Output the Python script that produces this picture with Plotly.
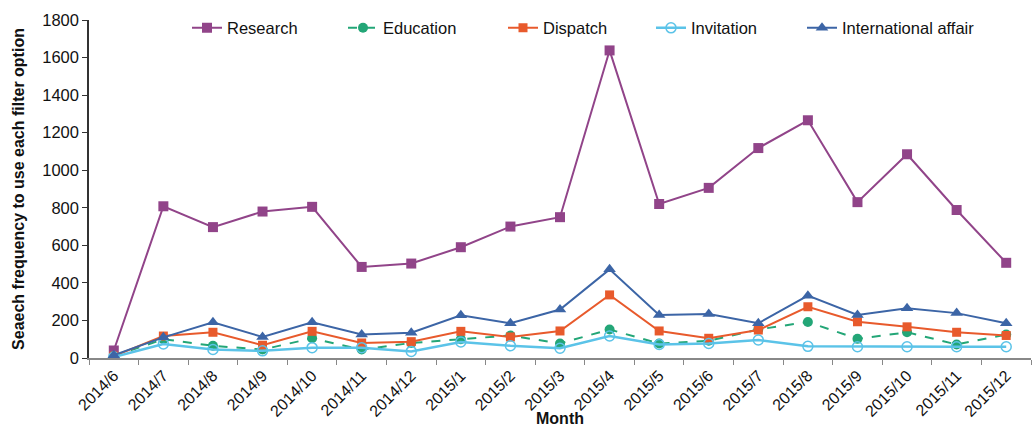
import plotly.graph_objects as go

months = ["2014/6", "2014/7", "2014/8", "2014/9", "2014/10", "2014/11", "2014/12",
          "2015/1", "2015/2", "2015/3", "2015/4", "2015/5", "2015/6", "2015/7",
          "2015/8", "2015/9", "2015/10", "2015/11", "2015/12"]

research = [40, 808, 697, 780, 805, 485, 503, 590, 700, 750, 1638, 820, 906, 1118, 1266, 830, 1085, 788, 507]
education = [10, 100, 65, 45, 105, 45, 80, 100, 120, 77, 152, 77, 92, 152, 192, 102, 137, 72, 125]
dispatch = [10, 117, 137, 68, 142, 80, 87, 142, 112, 144, 336, 144, 105, 149, 273, 193, 166, 137, 120]
invitation = [5, 75, 45, 38, 55, 55, 35, 85, 65, 52, 117, 72, 77, 96, 62, 60, 60, 60, 60]
international = [15, 110, 190, 112, 190, 125, 135, 228, 185, 258, 472, 229, 234, 185, 332, 229, 265, 239, 185]

fig = go.Figure()

fig.add_trace(go.Scatter(x=months, y=research, name="Research", mode="lines+markers",
                         line=dict(color="#914489", width=2), legend="legend",
                         marker=dict(symbol="square", size=10, color="#914489")))
fig.add_trace(go.Scatter(x=months, y=education, name="Education", mode="lines+markers",
                         line=dict(color="#23A677", width=2, dash="dash"), legend="legend2",
                         marker=dict(symbol="circle", size=10, color="#23A677")))
fig.add_trace(go.Scatter(x=months, y=dispatch, name="Dispatch", mode="lines+markers",
                         line=dict(color="#E85A2C", width=2), legend="legend3",
                         marker=dict(symbol="square", size=9, color="#E85A2C")))
fig.add_trace(go.Scatter(x=months, y=invitation, name="Invitation", mode="lines+markers",
                         line=dict(color="#5BC3E8", width=2.5), legend="legend4",
                         marker=dict(symbol="circle-open", size=10, color="#5BC3E8", line=dict(width=1.5))))
fig.add_trace(go.Scatter(x=months, y=international, name="International affair", mode="lines+markers",
                         line=dict(color="#3C65A6", width=2), legend="legend5",
                         marker=dict(symbol="triangle-up", size=11, color="#3C65A6")))

plot_left, plot_w = 89, 942
def leg(px):
    return dict(orientation="h", x=(px - plot_left) / plot_w, y=0.976, xanchor="left", yanchor="middle",
                font=dict(size=16.5), itemwidth=30, bgcolor="rgba(0,0,0,0)")

fig.update_layout(
    width=1033, height=427,
    margin=dict(l=89, r=2, t=20, b=69, autoexpand=False),
    paper_bgcolor="white", plot_bgcolor="white",
    font=dict(family="Liberation Sans, Arial, sans-serif", size=16, color="#111"),
    showlegend=True,
    legend=leg(187), legend2=leg(343), legend3=leg(503), legend4=leg(651), legend5=leg(802),
    xaxis=dict(type="category", range=[-0.5, 18.5], tickangle=-45,
               showline=True, linecolor="#888", linewidth=2,
               ticks="outside", tickson="boundaries", ticklen=5, tickcolor="#888",
               showgrid=False, zeroline=False, automargin=False,
               title=dict(text="<b>Month</b>", font=dict(size=16), standoff=0),
               tickfont=dict(size=16)),
    yaxis=dict(range=[0, 1800], dtick=200, showline=True, linecolor="#333", linewidth=1.5,
               ticks="outside", ticklen=5, tickcolor="#333",
               showgrid=False, zeroline=False, automargin=False,
               title=dict(text="<b>Seaech frequency to use each filter option</b>", font=dict(size=16), standoff=14),
               tickfont=dict(size=16.5)),
)

fig.write_html("out.html")
